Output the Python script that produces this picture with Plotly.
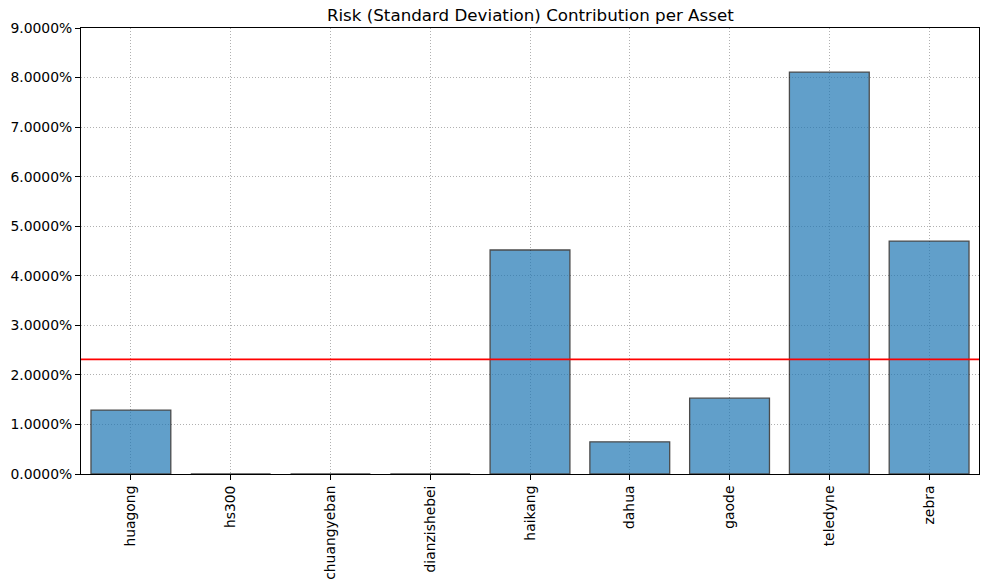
import plotly.graph_objects as go

assets = ["huagong", "hs300", "chuangyeban", "dianzishebei", "haikang",
          "dahua", "gaode", "teledyne", "zebra"]
risk_contrib = [0.0129, 0.0, 0.0, 0.0, 0.0452, 0.0065, 0.0153, 0.0811, 0.0470]
mean_contrib = sum(risk_contrib) / len(risk_contrib)
y_ticks = [i / 100 for i in range(0, 10)]

fig = go.Figure()
fig.add_trace(go.Bar(
    x=list(range(len(assets))), y=risk_contrib, width=0.8,
    marker=dict(color="#1f77b4", line=dict(color="#000000", width=1.3)),
    opacity=0.7, showlegend=False,
))
fig.add_shape(type="line", xref="paper", x0=0, x1=1, yref="y",
              y0=mean_contrib, y1=mean_contrib,
              line=dict(color="red", width=1.7))

axis_common = dict(
    showline=True, linecolor="black", linewidth=1, mirror=True,
    ticks="outside", ticklen=5, tickwidth=1, tickcolor="black",
    showgrid=True, gridcolor="#b0b0b0", gridwidth=0.8, griddash="1px,2px",
    zeroline=False, automargin=False,
    tickfont=dict(family="DejaVu Sans", size=13.9, color="black"),
)
fig.update_xaxes(range=[-0.5, 8.5], tickvals=list(range(len(assets))),
                 ticktext=assets, tickangle=-90, **axis_common)
fig.update_yaxes(range=[0, 0.09], tickvals=y_ticks, tickformat=".4%",
                 **axis_common)
fig.update_layout(
    width=1000, height=587,
    margin=dict(l=81, r=21, t=28, b=113),
    plot_bgcolor="white", paper_bgcolor="white",
    title=dict(text="Risk (Standard Deviation) Contribution per Asset",
               x=0.5303, xanchor="center", y=0.974, yanchor="middle",
               font=dict(family="DejaVu Sans", size=16.7, color="black")),
    font=dict(family="DejaVu Sans"),
)
fig.write_html("out.html", config={"displayModeBar": False})

with open("out.html", "r", encoding="utf-8") as f:
    html = f.read()
html = html.replace("<head>", "<head><style>html,body{margin:0;padding:0;overflow:hidden;}</style>", 1)
with open("out.html", "w", encoding="utf-8") as f:
    f.write(html)
